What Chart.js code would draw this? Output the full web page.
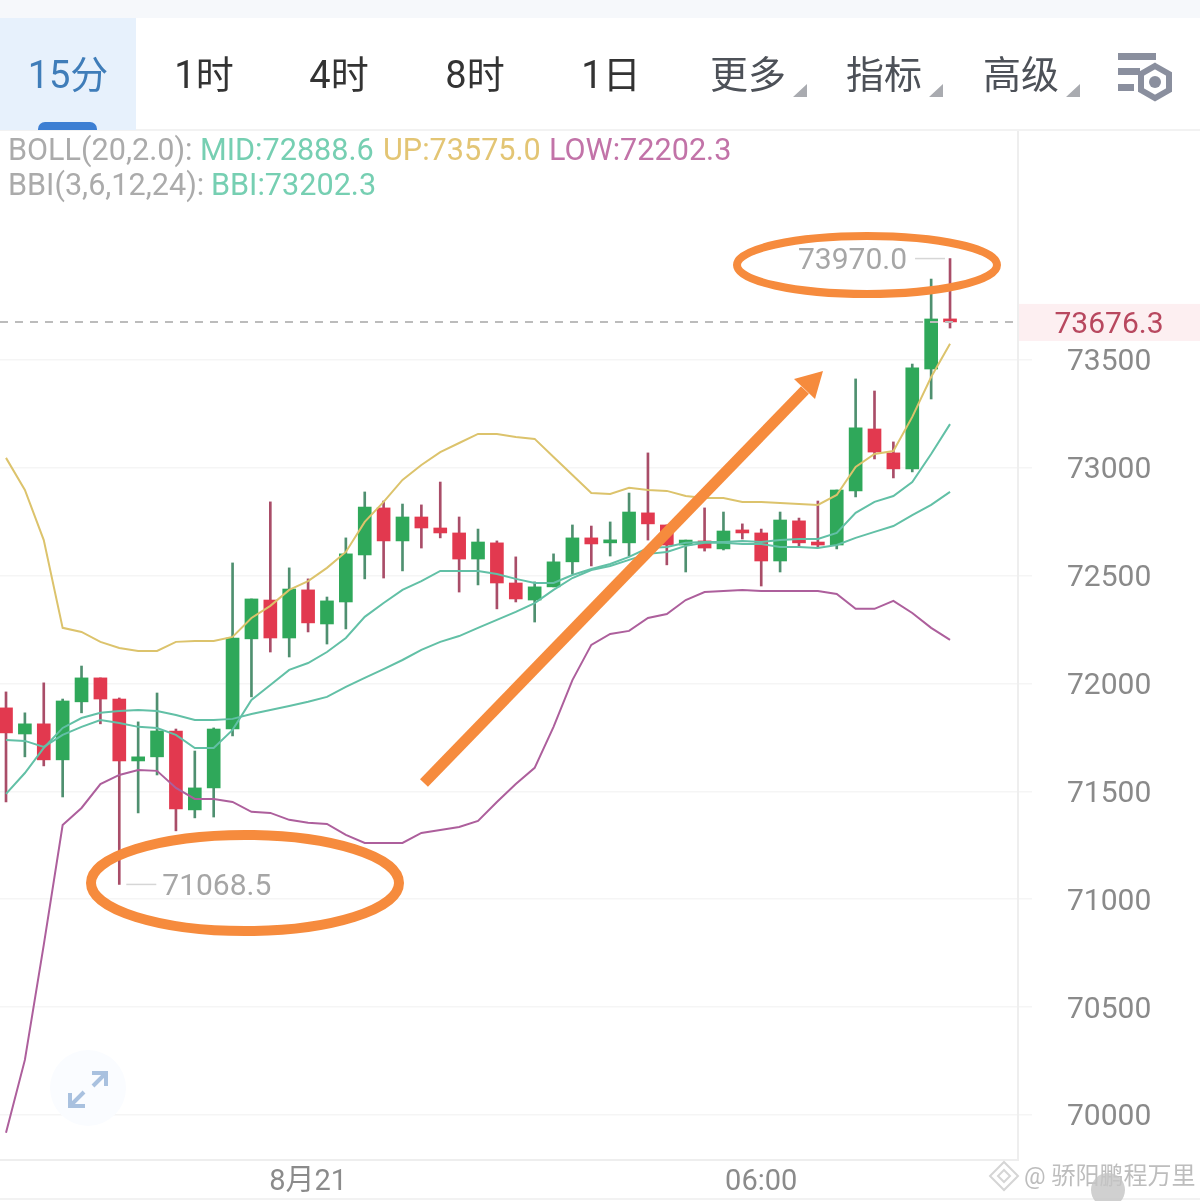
<!DOCTYPE html>
<html lang="zh">
<head>
<meta charset="utf-8">
<title>15分</title>
<style>
  html, body { margin: 0; padding: 0; background: #fff; }
  body { width: 1200px; height: 1201px; position: relative; overflow: hidden; font-family: Roboto, "Noto Sans CJK SC", sans-serif; }
  #myChart { position: absolute; left: 0; top: 0; }
  .topbar { position: absolute; left: 0; top: 0; width: 1200px; height: 18px; background: #f6f8fb; }
  .tab-line { position: absolute; left: 0; top: 129px; width: 1200px; height: 2px; background: #f2f2f2; }
  .bottom-line { position: absolute; left: 0; top: 1198px; width: 1200px; height: 2px; background: #f2f2f2; }
  .tab-active { position: absolute; left: 0; top: 18px; width: 136px; height: 112px; background: #e7f1fc; }
  .tab-mark { position: absolute; left: 38px; top: 122px; width: 59px; height: 8px; background: #3d7fd3; border-radius: 7px 7px 0 0; }
  .tab { position: absolute; top: 49px; width: 136px; text-align: center; font-size: 38px; line-height: 52px; color: #333; font-family: Roboto, "Noto Sans CJK SC", sans-serif; }
  .tab.cur { color: #3f7db9; }
  .tab.dim { color: #4d5158; }
  .legend { position: absolute; font-size: 30.6px; line-height: 36px; white-space: nowrap; }
  .watermark { position: absolute; left: 1024px; top: 1158px; font-size: 24px; line-height: 36px; color: #bdbdbd; white-space: nowrap; }
  svg { position: absolute; left: 0; top: 0; }
</style>
</head>
<body>
<canvas id="myChart" width="1200" height="1201"></canvas>

<div class="topbar"></div>
<div class="tab-line"></div>
<div class="bottom-line"></div>
<div class="tab-active"></div>
<div class="tab-mark"></div>
<div class="tab cur" style="left:0">15分</div>
<div class="tab" style="left:136px">1时</div>
<div class="tab" style="left:271px">4时</div>
<div class="tab" style="left:407px">8时</div>
<div class="tab" style="left:543px">1日</div>
<div class="tab dim" style="left:680px">更多</div>
<div class="tab dim" style="left:816px">指标</div>
<div class="tab dim" style="left:953px">高级</div>

<div class="legend" style="left:8px;top:132px;color:#ababab">BOLL(20,2.0):</div>
<div class="legend" style="left:200px;top:132px;color:#76cfb2">MID:72888.6</div>
<div class="legend" style="left:383px;top:132px;color:#e3c574">UP:73575.0</div>
<div class="legend" style="left:549px;top:132px;color:#c273a8">LOW:72202.3</div>
<div class="legend" style="left:8px;top:167px;color:#ababab">BBI(3,6,12,24):</div>
<div class="legend" style="left:211px;top:167px;color:#76cfb2">BBI:73202.3</div>

<div class="watermark">@ 骄阳鹏程万里</div>

<svg width="1200" height="1201">
  <!-- уголки у выпадающих пунктов -->
  <path d="M793 97 L807 84 L807 97 Z M929 97 L943 84 L943 97 Z M1066 97 L1080 84 L1080 97 Z" fill="#a9abb0"/>
  <!-- настройки -->
  <path d="M1118 53 H1156 V60 H1118 Z M1118 68 H1140 V75 H1118 Z M1118 84 H1134 V91 H1118 Z" fill="#8a8f9e"/>
  <path d="M1155 66 L1169 74 V90 L1155 98 L1141 90 V74 Z" fill="none" stroke="#8a8f9e" stroke-width="6"/>
  <circle cx="1155" cy="82" r="6" fill="#8a8f9e"/>
  <!-- кнопка полного экрана -->
  <circle cx="88" cy="1088" r="38" fill="#fafcff"/>
  <path d="M92 1073 H106 V1086 M106 1073 L93 1086 M70 1093 V1106 H85 M70 1106 L84 1092" fill="none" stroke="#a9c1df" stroke-width="4"/>
  <!-- значок водяного знака -->
  <path d="M1004 1162 L1018 1176 L1004 1190 L990 1176 Z M1004 1170 L1010 1176 L1004 1182 L998 1176 Z" fill="none" stroke="#d5d5d5" stroke-width="2"/>
  <circle cx="1108" cy="1190" r="17" fill="#c4c4c4" fill-opacity="0.8"/>
  <!-- пометки поверх графика -->
  <ellipse cx="867" cy="265" rx="130" ry="29" fill="none" stroke="#f68b3d" stroke-width="8"/>
  <ellipse cx="245" cy="883" rx="154" ry="48" fill="none" stroke="#f68b3d" stroke-width="10"/>
  <path d="M424 783 L805 390" fill="none" stroke="#f68b3d" stroke-width="11"/>
  <path d="M823 371 L794 379 L815 399 Z" fill="#f68b3d"/>
</svg>

<script src="https://cdn.jsdelivr.net/npm/chart.js@4/dist/chart.umd.min.js"></script>
<script>
// Свечи
const opens = [71887, 71766, 71813, 71646, 71915, 72026, 71928, 71641, 71660, 71780, 71414, 71516, 71789, 72207, 72387, 72211, 72434, 72276, 72378, 72596, 72814, 72661, 72772, 72721, 72698, 72577, 72652, 72466, 72387, 72448, 72564, 72675, 72652, 72652, 72791, 72735, 72642, 72661, 72624, 72703, 72698, 72568, 72754, 72652, 72642, 72893, 73180, 73069, 72995, 73458, 73685];
const closes = [71771, 71813, 71646, 71919, 72026, 71928, 71641, 71660, 71780, 71419, 71516, 71789, 72211, 72392, 72211, 72438, 72281, 72383, 72601, 72818, 72661, 72772, 72721, 72698, 72577, 72656, 72466, 72392, 72448, 72564, 72675, 72647, 72656, 72795, 72740, 72642, 72665, 72628, 72707, 72698, 72568, 72758, 72652, 72642, 72897, 73185, 73073, 72995, 73463, 73690, 73676.3];
const highs = [71961, 71864, 72003, 71928, 72081, 72026, 71933, 71822, 71956, 71789, 71687, 71794, 72559, 72392, 72842, 72536, 72485, 72401, 72675, 72888, 72846, 72832, 72828, 72934, 72772, 72716, 72661, 72587, 72471, 72601, 72735, 72730, 72749, 72883, 73069, 72735, 72665, 72814, 72795, 72740, 72716, 72795, 72767, 72846, 72897, 73412, 73356, 73120, 73481, 73875, 73970];
const lows = [71451, 71660, 71618, 71474, 71864, 71813, 71068.5, 71400, 71576, 71317, 71377, 71381, 71757, 71938, 72146, 72123, 72239, 72183, 72253, 72485, 72489, 72522, 72628, 72675, 72424, 72457, 72346, 72378, 72285, 72448, 72508, 72545, 72591, 72591, 72665, 72550, 72517, 72614, 72619, 72670, 72452, 72517, 72633, 72633, 72624, 72865, 73041, 72953, 72981, 73319, 73648];

// Индикаторы
const bollUp = [73046, 72897, 72665, 72258, 72239, 72193, 72165, 72151, 72151, 72193, 72197, 72197, 72216, 72304, 72360, 72434, 72475, 72536, 72610, 72749, 72842, 72944, 73013, 73073, 73115, 73157, 73157, 73143, 73134, 73050, 72967, 72883, 72879, 72907, 72897, 72893, 72869, 72860, 72860, 72842, 72842, 72837, 72832, 72828, 72874, 73004, 73064, 73078, 73236, 73421, 73575];
const bollMid = [71488, 71585, 71701, 71794, 71840, 71864, 71873, 71877, 71873, 71854, 71831, 71831, 71836, 71859, 71877, 71896, 71915, 71938, 71984, 72026, 72067, 72109, 72156, 72193, 72220, 72258, 72295, 72332, 72373, 72434, 72489, 72526, 72545, 72573, 72601, 72610, 72638, 72652, 72652, 72647, 72647, 72633, 72633, 72628, 72642, 72675, 72703, 72730, 72781, 72828, 72888.6];
const bollLow = [69917, 70255, 70788, 71344, 71423, 71534, 71576, 71599, 71595, 71516, 71465, 71465, 71451, 71405, 71400, 71368, 71354, 71349, 71298, 71261, 71261, 71261, 71307, 71321, 71335, 71363, 71451, 71534, 71609, 71799, 72016, 72179, 72230, 72244, 72304, 72322, 72387, 72424, 72429, 72434, 72429, 72429, 72429, 72429, 72415, 72346, 72346, 72383, 72327, 72258, 72202.3];
const bbi = [71738, 71734, 71706, 71762, 71799, 71831, 71817, 71799, 71794, 71762, 71701, 71701, 71785, 71924, 71993, 72063, 72095, 72146, 72211, 72309, 72373, 72434, 72475, 72522, 72522, 72522, 72508, 72485, 72466, 72466, 72503, 72531, 72554, 72587, 72628, 72633, 72652, 72656, 72656, 72661, 72656, 72665, 72670, 72670, 72698, 72791, 72842, 72869, 72934, 73064, 73202.3];

// Подписи осей
const yTicks = [70000, 70500, 71000, 71500, 72000, 72500, 73000, 73500];
const xTickIndex = [16, 40];
const xTickLabels = ["8月21", "06:00"];

// Отметки на графике
const lastPrice = 73676.3;
const highIndex = 50;
const highPrice = 73970;
const lowIndex = 6;
const lowPrice = 71068.5;

const greenBody = "#2fa85a";
const redBody = "#e2394f";
const greenWick = "#4f9070";
const redWick = "#a94d68";
const isUp = (i) => closes[i] >= opens[i];

function toLine(values) {
  return values.map((v, i) => ({ x: i, y: v }));
}

function lineSet(values, color) {
  return {
    type: "line",
    data: toLine(values),
    borderColor: color,
    borderWidth: 2,
    pointRadius: 0,
    tension: 0,
    order: 1,
  };
}

// Пунктир текущей цены и подписи максимума/минимума
const pricePlugin = {
  id: "pricePlugin",
  afterDatasetsDraw(chart) {
    const { ctx, scales, chartArea } = chart;
    const y = scales.y.getPixelForValue(lastPrice);
    ctx.save();
    ctx.strokeStyle = "#bcbcbc";
    ctx.lineWidth = 2;
    ctx.setLineDash([8, 7]);
    ctx.beginPath();
    ctx.moveTo(chartArea.left, y);
    ctx.lineTo(chartArea.right - 3, y);
    ctx.stroke();
    ctx.setLineDash([]);

    ctx.fillStyle = "#fdeff1";
    ctx.fillRect(chartArea.right + 1, y - 18, 182, 37);
    ctx.fillStyle = "#b8485f";
    ctx.font = "30px Roboto";
    ctx.textAlign = "center";
    ctx.textBaseline = "middle";
    ctx.fillText(lastPrice.toFixed(1), 1109, y + 4);

    ctx.strokeStyle = "#d6d6d6";
    ctx.lineWidth = 1.5;
    ctx.fillStyle = "#a6a6a6";
    const hx = scales.x.getPixelForValue(highIndex);
    const hy = scales.y.getPixelForValue(highPrice);
    ctx.beginPath();
    ctx.moveTo(hx - 5, hy);
    ctx.lineTo(hx - 35, hy);
    ctx.stroke();
    ctx.textAlign = "right";
    ctx.fillText(highPrice.toFixed(1), hx - 43, hy + 3);

    const lx = scales.x.getPixelForValue(lowIndex);
    const ly = scales.y.getPixelForValue(lowPrice);
    ctx.beginPath();
    ctx.moveTo(lx + 7, ly);
    ctx.lineTo(lx + 37, ly);
    ctx.stroke();
    ctx.textAlign = "left";
    ctx.fillText(lowPrice.toFixed(1), lx + 43, ly + 3);
    ctx.restore();
  },
};

const config = {
  type: "bar",
  data: {
    datasets: [
      lineSet(bollUp, "#dcc36c"),
      lineSet(bollMid, "#62c0a6"),
      lineSet(bollLow, "#ad5f9c"),
      lineSet(bbi, "#62c0a6"),
      {
        // тело свечи
        data: opens.map((o, i) => ({ x: i, y: [o, closes[i]] })),
        backgroundColor: opens.map((o, i) => (isUp(i) ? greenBody : redBody)),
        barThickness: 13,
        minBarLength: 3,
        borderSkipped: false,
        grouped: false,
        order: 2,
      },
      {
        // тени
        data: lows.map((l, i) => ({ x: i, y: [l, highs[i]] })),
        backgroundColor: lows.map((l, i) => (isUp(i) ? greenWick : redWick)),
        barThickness: 2,
        grouped: false,
        order: 3,
      },
    ],
  },
  options: {
    responsive: false,
    animation: false,
    layout: { padding: { top: 130, left: 0, right: 0, bottom: 0 } },
    plugins: {
      legend: { display: false },
      title: { display: false },
      tooltip: { enabled: false },
    },
    scales: {
      x: {
        type: "linear",
        offset: false,
        min: -0.318,
        max: 53.6,
        afterFit(scale) {
          scale.height = 41;
          scale.paddingLeft = 0;
          scale.paddingRight = 0;
        },
        afterBuildTicks(scale) {
          scale.ticks = xTickIndex.map((v) => ({ value: v }));
        },
        grid: { display: false },
        border: { color: "#eeeeee", width: 2 },
        ticks: {
          autoSkip: false,
          maxRotation: 0,
          padding: -3,
          color: "#8b8b8b",
          font: { size: 29, family: "Roboto, 'Noto Sans CJK SC'" },
          callback: (v, i) => xTickLabels[i],
        },
      },
      y: {
        position: "right",
        min: 69791,
        max: 74566,
        afterFit(scale) {
          scale.width = 182;
          // без этого подпись нижней отметки съедает место у области графика
          scale.paddingTop = 0;
          scale.paddingBottom = 0;
        },
        afterBuildTicks(scale) {
          scale.ticks = yTicks.map((v) => ({ value: v }));
        },
        grid: { color: "#f5f5f5", tickLength: 14, lineWidth: 1.5 },
        border: { color: "#eeeeee", width: 2 },
        ticks: {
          padding: 35,
          labelOffset: 3,
          color: "#8a8a8a",
          font: { size: 30, family: "Roboto" },
          callback: (v) => String(v),
        },
      },
    },
  },
  plugins: [pricePlugin],
};

myChart = new Chart(document.getElementById("myChart"), config);
</script>
</body>
</html>
